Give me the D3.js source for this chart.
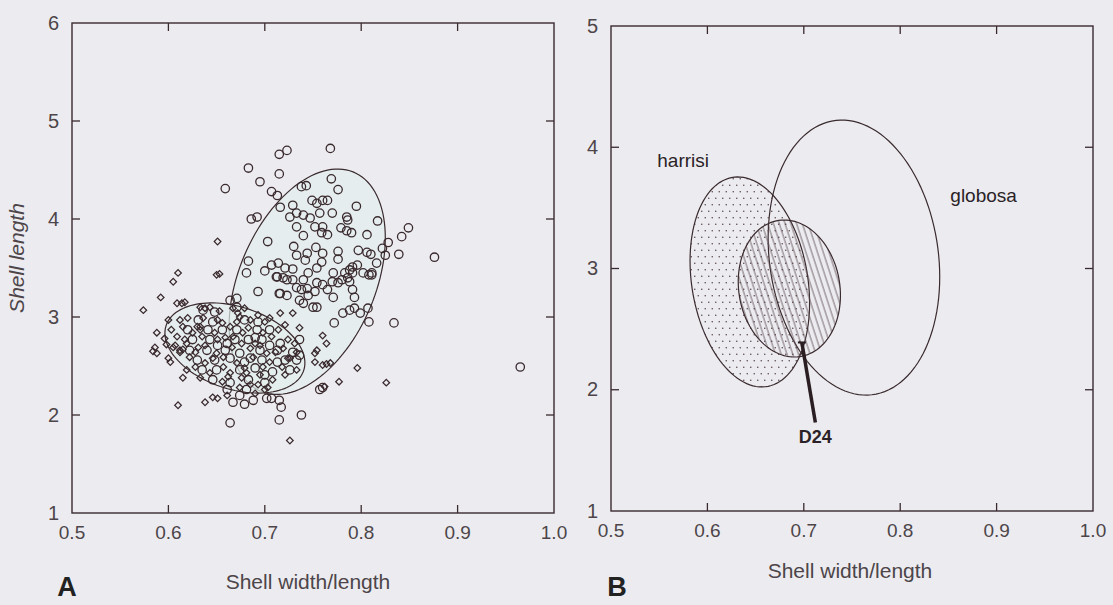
<!DOCTYPE html>
<html>
<head>
<meta charset="utf-8">
<script src="https://cdn.jsdelivr.net/npm/d3@7"></script>
<style>
  html, body { margin: 0; padding: 0; background: #ececf0; }
  svg { display: block; }
  text { font-family: "Liberation Sans", Arial, sans-serif; }
</style>
</head>
<body>
<div id="chart"></div>
<script>
const xTicks = [0.5, 0.6, 0.7, 0.8, 0.9, 1.0]
const yTicksA = [1, 2, 3, 4, 5, 6]
const yTicksB = [1, 2, 3, 4, 5]

// panel A: open circles (larger sample)
const circlePts = [
  [0.723,4.70],[0.715,4.66],[0.768,4.72],[0.683,4.52],[0.715,4.46],[0.695,4.38],[0.659,4.31],[0.769,4.41],
  [0.776,4.30],[0.743,4.34],[0.738,4.33],[0.707,4.28],[0.713,4.24],[0.716,4.12],[0.749,4.19],[0.754,4.16],
  [0.760,4.19],[0.765,4.19],[0.729,4.14],[0.733,4.06],[0.726,4.02],[0.740,4.04],[0.747,4.01],[0.757,4.06],
  [0.770,4.06],[0.795,4.13],[0.785,4.02],[0.786,3.99],[0.817,3.98],[0.686,4.00],[0.692,4.02],[0.733,3.92],
  [0.752,3.92],[0.760,3.92],[0.779,3.91],[0.785,3.88],[0.790,3.86],[0.765,3.84],[0.759,3.86],[0.740,3.83],
  [0.806,3.84],[0.849,3.91],[0.842,3.82],[0.828,3.76],[0.822,3.70],[0.703,3.77],[0.730,3.72],[0.753,3.71],
  [0.760,3.65],[0.776,3.67],[0.776,3.59],[0.797,3.68],[0.806,3.66],[0.810,3.64],[0.839,3.64],[0.825,3.63],
  [0.876,3.61],[0.816,3.55],[0.683,3.57],[0.681,3.45],[0.733,3.63],[0.742,3.58],[0.744,3.65],[0.707,3.53],
  [0.714,3.55],[0.700,3.47],[0.712,3.41],[0.721,3.50],[0.729,3.49],[0.754,3.50],[0.759,3.56],[0.783,3.45],
  [0.788,3.48],[0.791,3.51],[0.796,3.53],[0.802,3.45],[0.811,3.43],[0.729,3.38],[0.723,3.38],[0.740,3.38],
  [0.745,3.45],[0.754,3.35],[0.760,3.33],[0.770,3.36],[0.776,3.35],[0.788,3.36],[0.791,3.28],[0.793,3.20],
  [0.693,3.26],[0.715,3.24],[0.723,3.22],[0.738,3.28],[0.744,3.29],[0.752,3.26],[0.765,3.28],[0.771,3.20],
  [0.754,3.10],[0.807,3.09],[0.781,3.04],[0.736,3.17],[0.834,2.94],[0.965,2.49],[0.808,2.95],[0.799,3.04],
  [0.793,3.09],[0.788,3.07],[0.772,2.94],[0.750,3.10],[0.757,2.26],[0.760,2.28],[0.738,2.00],[0.715,1.95],
  [0.664,1.92],[0.667,2.13],[0.679,2.11],[0.688,2.15],[0.702,2.17],[0.707,2.17],[0.715,2.15],[0.717,2.08],
  [0.664,3.17],[0.671,3.19],[0.671,3.10],[0.713,3.41],[0.719,3.40],[0.716,3.24],[0.808,3.43],[0.811,3.45],
  [0.771,3.45],[0.780,3.38],[0.786,3.40],[0.791,3.45],[0.733,3.30],[0.740,3.14],[0.745,3.22],
  [0.636,3.07],[0.648,3.05],[0.631,2.97],[0.646,2.95],[0.679,2.97],[0.693,2.95],[0.620,2.87],[0.641,2.87],
  [0.656,2.87],[0.671,2.87],[0.692,2.87],[0.705,2.87],[0.625,2.77],[0.643,2.77],[0.661,2.73],[0.683,2.77],
  [0.697,2.77],[0.716,2.73],[0.622,2.66],[0.640,2.66],[0.659,2.66],[0.674,2.63],[0.695,2.66],[0.713,2.66],
  [0.729,2.64],[0.630,2.56],[0.648,2.56],[0.664,2.58],[0.679,2.54],[0.697,2.56],[0.713,2.54],[0.733,2.56],
  [0.635,2.46],[0.650,2.46],[0.674,2.46],[0.690,2.48],[0.708,2.44],[0.726,2.46],[0.646,2.36],[0.664,2.33],
  [0.683,2.36],[0.700,2.33],[0.661,2.26],[0.681,2.26],
  [0.690,2.79],[0.705,2.71],[0.721,2.56],[0.736,2.61],[0.700,2.41],[0.674,2.20],[0.651,2.71],[0.669,2.77],
  [0.685,2.58],[0.736,2.77]
]

// panel A: open diamonds (smaller sample)
const diamondPts = [
  [0.574,3.07],[0.592,3.20],[0.605,3.36],[0.610,3.45],[0.650,3.43],[0.653,3.44],[0.651,3.77],[0.588,2.84],
  [0.586,2.69],[0.584,2.65],[0.588,2.63],[0.600,2.58],[0.602,2.54],[0.609,3.14],[0.614,3.14],[0.617,3.15],
  [0.600,2.97],[0.612,2.97],[0.603,2.87],[0.633,3.10],[0.638,3.09],[0.610,2.10],[0.638,2.13],[0.646,2.18],
  [0.651,2.17],[0.661,2.20],[0.615,2.38],[0.619,2.46],[0.612,2.66],[0.615,2.67],[0.630,2.90],[0.633,2.87],
  [0.679,3.09],[0.716,3.04],[0.729,3.04],[0.736,2.89],[0.731,2.73],[0.733,2.64],[0.796,2.48],[0.826,2.33],
  [0.777,2.34],[0.726,1.74],[0.760,2.81],[0.764,2.73],[0.754,2.66],[0.752,2.63],[0.752,2.54],[0.768,2.53],
  [0.764,2.52],[0.760,2.51],[0.762,2.29],
  [0.643,3.10],[0.653,3.06],[0.667,3.09],[0.672,3.04],[0.636,2.99],[0.651,2.97],[0.656,2.94],[0.674,3.00],
  [0.685,2.97],[0.700,2.95],[0.615,2.90],[0.625,2.84],[0.633,2.90],[0.648,2.84],[0.664,2.90],[0.677,2.84],
  [0.683,2.89],[0.698,2.84],[0.714,2.87],[0.609,2.80],[0.619,2.73],[0.635,2.80],[0.651,2.77],[0.667,2.80],
  [0.676,2.73],[0.690,2.73],[0.707,2.80],[0.724,2.77],[0.605,2.69],[0.612,2.64],[0.631,2.69],[0.650,2.63],
  [0.666,2.69],[0.685,2.68],[0.702,2.63],[0.719,2.68],[0.622,2.59],[0.638,2.53],[0.657,2.59],[0.671,2.53],
  [0.688,2.59],[0.705,2.54],[0.724,2.58],[0.628,2.49],[0.643,2.43],[0.657,2.49],[0.664,2.43],[0.681,2.43],
  [0.698,2.49],[0.718,2.49],[0.733,2.46],[0.633,2.38],[0.656,2.34],[0.676,2.38],[0.693,2.31],[0.708,2.36],
  [0.674,2.28],[0.690,2.22],[0.700,2.26],[0.596,2.78],[0.598,2.72],
  [0.617,2.77],[0.638,2.71],[0.659,2.79],[0.695,2.71],[0.711,2.64],[0.726,2.58],[0.646,2.58],[0.679,2.48],
  [0.695,2.41],[0.721,2.41],[0.628,2.64],[0.671,2.95],[0.693,3.02],[0.705,2.99],[0.721,2.92],[0.607,2.71],
  [0.620,2.99],[0.662,2.39],[0.685,2.31],[0.703,2.28]
]

// confidence ellipses: centre, spread in x and y, correlation
const ellipsesA = [
  { name: "circles", cx: 0.744, cy: 3.36, sx: 0.081, sy: 1.15, r: 0.39 },
  { name: "diamonds", cx: 0.669, cy: 2.684, sx: 0.0726, sy: 0.46, r: -0.33 }
]
const ellipsesB = [
  { name: "globosa", cx: 0.752, cy: 3.09, sx: 0.089, sy: 1.134, r: -0.14, fill: "none" },
  { name: "harrisi", cx: 0.644, cy: 2.889, sx: 0.062, sy: 0.866, r: -0.2, fill: "url(#dots)" },
  { name: "D24", cx: 0.685, cy: 2.835, sx: 0.053, sy: 0.565, r: -0.1, fill: "url(#hatch)" }
]
const labelsB = [
  { text: "harrisi", x: 0.548, y: 3.84 },
  { text: "globosa", x: 0.852, y: 3.55 }
]
const d24Point = { x: 0.698, y: 2.39, lx: 0.712, ly: 1.73 }

const W = 1113, H = 605
const ink = "#3a2a2e"
const svg = d3.select("#chart").append("svg").attr("width", W).attr("height", H)

const defs = svg.append("defs")
const dots = defs.append("pattern").attr("id", "dots").attr("patternUnits", "userSpaceOnUse")
  .attr("width", 7).attr("height", 13)
dots.append("circle").attr("cx", 1.75).attr("cy", 3.25).attr("r", 0.8).attr("fill", "#5b4a4e")
dots.append("circle").attr("cx", 5.25).attr("cy", 9.75).attr("r", 0.8).attr("fill", "#5b4a4e")
const hatch = defs.append("pattern").attr("id", "hatch").attr("patternUnits", "userSpaceOnUse")
  .attr("width", 5.5).attr("height", 10).attr("patternTransform", "rotate(-18)")
hatch.append("line").attr("x1", 1).attr("x2", 1).attr("y1", 0).attr("y2", 10)
  .attr("stroke", "#5b4a4e").attr("stroke-width", 0.8)

function ellipsePath(e, x, y) {
  const pts = d3.range(0, 2 * Math.PI, Math.PI / 60).map(t => [
    x(e.cx + e.sx * Math.cos(t)),
    y(e.cy + e.sy * (e.r * Math.cos(t) + Math.sqrt(1 - e.r * e.r) * Math.sin(t)))
  ])
  return d3.line().curve(d3.curveLinearClosed)(pts)
}

function frame(g, x, y, yTicks) {
  const [x0, x1] = x.range()
  const [y0, y1] = y.range()
  g.append("rect").attr("x", x0).attr("y", y1).attr("width", x1 - x0).attr("height", y0 - y1)
    .attr("fill", "none").attr("stroke", ink).attr("stroke-width", 1.4)
  const inner = xTicks.slice(1, -1)
  const innerY = yTicks.slice(1, -1)
  g.selectAll(".xtb").data(inner).enter().append("line")
    .attr("x1", d => x(d)).attr("x2", d => x(d)).attr("y1", y0).attr("y2", y0 - 8)
    .attr("stroke", ink).attr("stroke-width", 1.3)
  g.selectAll(".xtt").data(inner).enter().append("line")
    .attr("x1", d => x(d)).attr("x2", d => x(d)).attr("y1", y1).attr("y2", y1 + 8)
    .attr("stroke", ink).attr("stroke-width", 1.3)
  g.selectAll(".ytl").data(innerY).enter().append("line")
    .attr("x1", x0).attr("x2", x0 + 8).attr("y1", d => y(d)).attr("y2", d => y(d))
    .attr("stroke", ink).attr("stroke-width", 1.3)
  g.selectAll(".ytr").data(innerY).enter().append("line")
    .attr("x1", x1).attr("x2", x1 - 8).attr("y1", d => y(d)).attr("y2", d => y(d))
    .attr("stroke", ink).attr("stroke-width", 1.3)
  g.selectAll(".xl").data(xTicks).enter().append("text")
    .attr("x", d => x(d)).attr("y", y0 + 26).attr("text-anchor", "middle")
    .attr("font-size", 19).attr("fill", "#4d4549").text(d => d.toFixed(1))
  g.selectAll(".yl").data(yTicks).enter().append("text")
    .attr("x", x0 - 13).attr("y", d => y(d)).attr("dy", "0.33em").attr("text-anchor", "end")
    .attr("font-size", 20).attr("fill", "#4d4549").text(d => d)
}

// ---- Panel A
const xA = d3.scaleLinear().domain([0.5, 1.0]).range([72, 554])
const yA = d3.scaleLinear().domain([1, 6]).range([513, 23])
const gA = svg.append("g")

gA.selectAll(".ellA").data(ellipsesA).enter().append("path")
  .attr("d", d => ellipsePath(d, xA, yA))
  .attr("fill", "#e2eeec").attr("fill-opacity", 0.7)
  .attr("stroke", ink).attr("stroke-width", 1.2)

const diamond = d3.symbol().type(d3.symbolSquare).size(22)
gA.append("g").selectAll("path").data(diamondPts).enter().append("path")
  .attr("d", diamond)
  .attr("transform", d => `translate(${xA(d[0])},${yA(d[1])}) rotate(45)`)
  .attr("fill", "none").attr("stroke", ink).attr("stroke-width", 1.25)

gA.append("g").selectAll("circle").data(circlePts).enter().append("circle")
  .attr("cx", d => xA(d[0])).attr("cy", d => yA(d[1])).attr("r", 4.2)
  .attr("fill", "none").attr("stroke", ink).attr("stroke-width", 1.3)

frame(gA, xA, yA, yTicksA)

gA.append("text").attr("x", 308).attr("y", 589).attr("text-anchor", "middle")
  .attr("font-size", 21).attr("fill", "#4d4549").text("Shell width/length")
gA.append("text").attr("transform", "translate(24,258) rotate(-90)").attr("text-anchor", "middle")
  .attr("font-size", 21).attr("font-style", "italic").attr("fill", "#4d4549").text("Shell length")
gA.append("text").attr("x", 67).attr("y", 596).attr("text-anchor", "middle")
  .attr("font-size", 27).attr("font-weight", "bold").attr("fill", "#222").text("A")

// ---- Panel B
const xB = d3.scaleLinear().domain([0.5, 1.0]).range([611, 1093])
const yB = d3.scaleLinear().domain([1, 5]).range([511, 26])
const gB = svg.append("g")

gB.selectAll(".ellB").data(ellipsesB).enter().append("path")
  .attr("d", d => ellipsePath(d, xB, yB))
  .attr("fill", d => d.fill)
  .attr("stroke", ink).attr("stroke-width", 1.2)

gB.append("line")
  .attr("x1", xB(d24Point.x)).attr("y1", yB(d24Point.y))
  .attr("x2", xB(d24Point.lx)).attr("y2", yB(d24Point.ly))
  .attr("stroke", "#2a1e22").attr("stroke-width", 3.5)
gB.append("line")
  .attr("x1", xB(d24Point.x) - 4).attr("x2", xB(d24Point.x) + 4)
  .attr("y1", yB(d24Point.y)).attr("y2", yB(d24Point.y))
  .attr("stroke", "#2a1e22").attr("stroke-width", 2)
gB.append("text").attr("x", xB(d24Point.lx)).attr("y", yB(d24Point.ly) + 21)
  .attr("text-anchor", "middle").attr("font-size", 18).attr("font-weight", "bold")
  .attr("fill", "#2a2226").text("D24")

gB.selectAll(".lab").data(labelsB).enter().append("text")
  .attr("x", d => xB(d.x)).attr("y", d => yB(d.y))
  .attr("font-size", 19).attr("fill", "#2a2226").text(d => d.text)

frame(gB, xB, yB, yTicksB)

gB.append("text").attr("x", 850).attr("y", 578).attr("text-anchor", "middle")
  .attr("font-size", 21).attr("fill", "#4d4549").text("Shell width/length")
gB.append("text").attr("x", 617).attr("y", 596).attr("text-anchor", "middle")
  .attr("font-size", 27).attr("font-weight", "bold").attr("fill", "#222").text("B")
</script>
</body>
</html>
